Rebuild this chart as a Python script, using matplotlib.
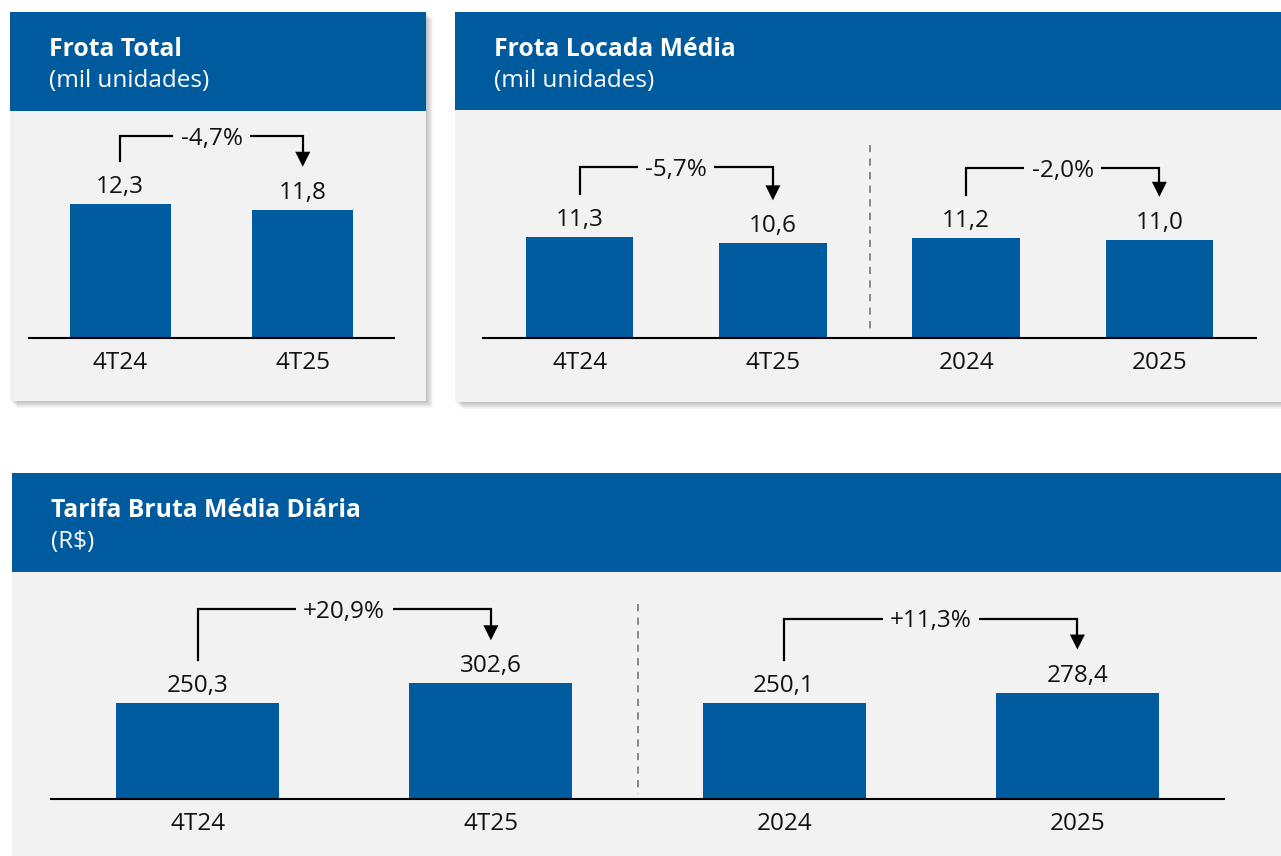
import matplotlib
matplotlib.use('Agg')
import matplotlib.pyplot as plt
from matplotlib.patches import Rectangle, Polygon

W, H = 1281, 856
BLUE = '#005A9E'
PANEL_BG = '#F2F2F2'
SEP_COLOR = '#7F7F7F'

# Frota Total (mil unidades)
frota_total_labels = ['4T24', '4T25']
frota_total_values = [12.3, 11.8]
frota_total_changes = ['-4,7%']

# Frota Locada Média (mil unidades)
frota_locada_labels = ['4T24', '4T25', '2024', '2025']
frota_locada_values = [11.3, 10.6, 11.2, 11.0]
frota_locada_changes = ['-5,7%', '-2,0%']

# Tarifa Bruta Média Diária (R$)
tarifa_labels = ['4T24', '4T25', '2024', '2025']
tarifa_values = [250.3, 302.6, 250.1, 278.4]
tarifa_changes = ['+20,9%', '+11,3%']

plt.rcParams['font.family'] = ['Open Sans', 'DejaVu Sans']
FS = 17.5
FS_TITLE = 17.8


def px_axes(fig, left, top, right, bottom):
    """Axes placed by pixel box (top-down y)."""
    return fig.add_axes([left / W, 1 - bottom / H, (right - left) / W, (bottom - top) / H])


def to_px(ax, x, y):
    dx, dy = ax.transData.transform((x, y))
    return dx, H - dy


def fmt(v):
    return f'{v:.1f}'.replace('.', ',')


def draw_panel(bg, x0, y0, x1, y1, header_bottom, title, subtitle):
    # soft drop shadow
    for k in range(7, 0, -1):
        bg.add_patch(Rectangle((x0 + k, y0 + k), x1 - x0, y1 - y0,
                               color='black', alpha=0.035, lw=0, zorder=1))
    bg.add_patch(Rectangle((x0, y0), x1 - x0, y1 - y0, color=PANEL_BG, lw=0, zorder=2))
    bg.add_patch(Rectangle((x0, y0), x1 - x0, header_bottom - y0, color=BLUE, lw=0, zorder=3))
    bg.text(x0 + 39, y0 + 44, title, color='white', fontsize=FS_TITLE, fontweight='bold',
            va='baseline', ha='left', zorder=4)
    bg.text(x0 + 39, y0 + 75, subtitle, color='white', fontsize=FS,
            va='baseline', ha='left', zorder=4)


def draw_bars(fig, bg, box, labels, values, ymax, changes, rise, sep_top=None):
    left, top, right, bottom = box
    ax = px_axes(fig, left, top, right, bottom)
    ax.patch.set_visible(False)
    x = list(range(len(values)))
    ax.bar(x, values, width=0.555, color=BLUE, zorder=2)
    ax.set_xlim(-0.5, len(values) - 0.5)
    ax.set_ylim(0, ymax)
    for s in ['top', 'right', 'left']:
        ax.spines[s].set_visible(False)
    ax.spines['bottom'].set_linewidth(1.5)
    ax.spines['bottom'].set_color('black')
    ax.set_xticks([])
    ax.set_yticks([])

    for i, v in enumerate(values):
        ax.annotate(fmt(v), xy=(i, v), xytext=(0, 11), textcoords='offset pixels',
                    ha='center', va='baseline', fontsize=FS, color='#111111',
                    annotation_clip=False)
        ax.annotate(labels[i], xy=(i, 0), xytext=(0, -31), textcoords='offset pixels',
                    ha='center', va='baseline', fontsize=FS, color='#111111',
                    annotation_clip=False)

    # change brackets, one per pair of bars
    for k, txt in enumerate(changes):
        a, b = 2 * k, 2 * k + 1
        xa, ya = to_px(ax, a, values[a])
        xb, yb = to_px(ax, b, values[b])
        yline = min(ya, yb) - rise
        tip = yb - 43
        head = 15
        bg.plot([xa, xa, xb, xb], [ya - 43, yline, yline, tip - head + 1],
                color='black', lw=1.6, solid_joinstyle='miter', zorder=5)
        bg.add_patch(Polygon([(xb - 7.5, tip - head), (xb + 7.5, tip - head), (xb, tip)],
                             closed=True, color='black', lw=0, zorder=5))
        bg.text((xa + xb) / 2, yline + 8.5, txt, ha='center', va='baseline', fontsize=FS,
                color='#111111', zorder=6,
                bbox=dict(boxstyle='square,pad=0.3', fc=PANEL_BG, ec='none'))

    if sep_top is not None:
        xs, ybase = to_px(ax, 1.5, 0)
        bg.plot([xs, xs], [sep_top, ybase - 5], color=SEP_COLOR, lw=1.3,
                dashes=(4, 3.5), zorder=5)
    return ax


fig = plt.figure(figsize=(W / 100, H / 100), dpi=100, facecolor='white')
bg = fig.add_axes([0, 0, 1, 1])
bg.set_xlim(0, W)
bg.set_ylim(H, 0)
bg.axis('off')

draw_panel(bg, 10, 12, 426, 401, 111, 'Frota Total', '(mil unidades)')
draw_panel(bg, 455, 12, 1295, 402, 110, 'Frota Locada Média', '(mil unidades)')
draw_panel(bg, 12, 473, 1295, 880, 572, 'Tarifa Bruta Média Diária', '(R$)')

draw_bars(fig, bg, (29, 138, 394, 338), frota_total_labels, frota_total_values,
          18.4, frota_total_changes, 68)
draw_bars(fig, bg, (483, 138, 1256, 338), frota_locada_labels, frota_locada_values,
          22.4, frota_locada_changes, 70, sep_top=145)
draw_bars(fig, bg, (51, 599, 1224, 799), tarifa_labels, tarifa_values,
          523, tarifa_changes, 74, sep_top=604)

fig.savefig('out.png', dpi=100, facecolor='white')
